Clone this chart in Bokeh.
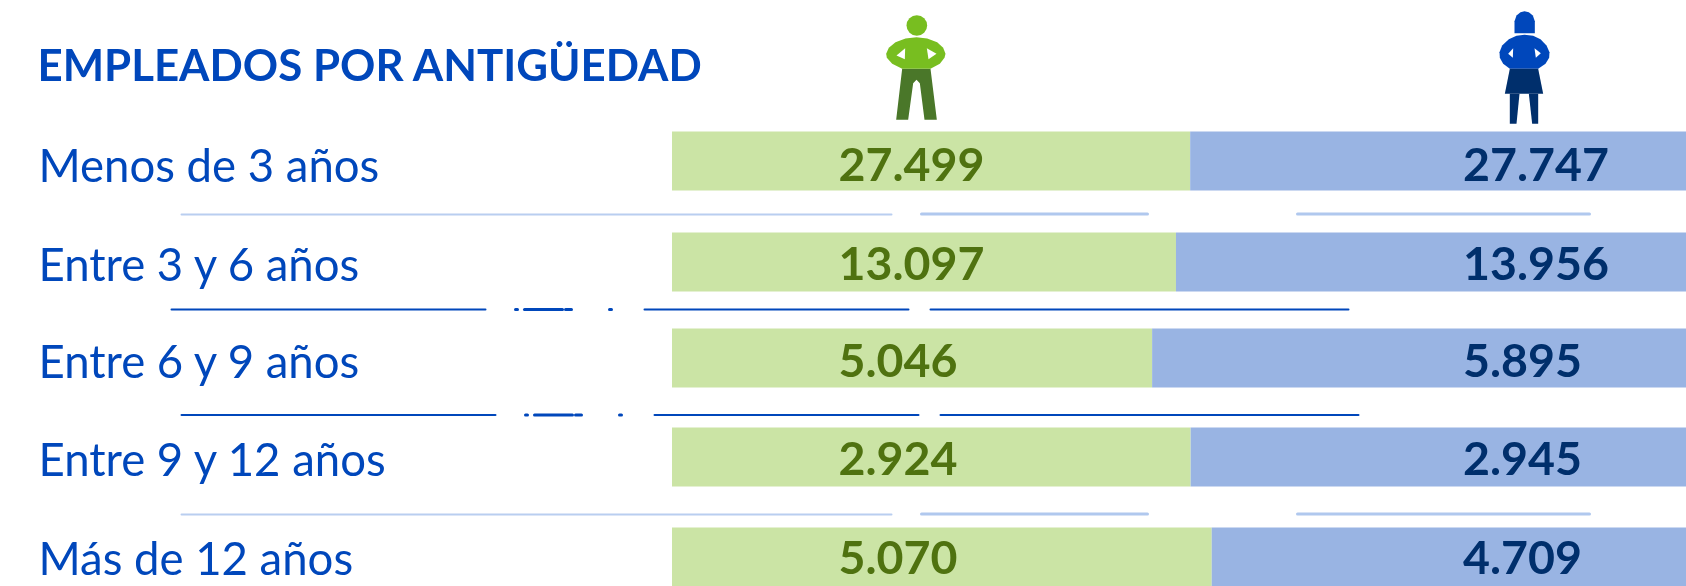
from bokeh.plotting import figure
from bokeh.models import Range1d, ColumnDataSource
from bokeh.core.properties import value
from bokeh.embed import file_html
from bokeh.resources import INLINE

title = "EMPLEADOS POR ANTIGÜEDAD"
categories = ["Menos de 3 años", "Entre 3 y 6 años", "Entre 6 y 9 años", "Entre 9 y 12 años", "Más de 12 años"]
hombres = [27499, 13097, 5046, 2924, 5070]
mujeres = [27747, 13956, 5895, 2945, 4709]
hombres_txt = ["27.499", "13.097", "5.046", "2.924", "5.070"]
mujeres_txt = ["27.747", "13.956", "5.895", "2.945", "4.709"]

W, H = 1686, 586
BAR_X0, BAR_W = 671.5, 1041
ROW_TOP = [131, 232, 328, 427, 527]
LABEL_Y = [164, 263, 360, 458, 557]
ROW_H = 59

GREEN_BAR, BLUE_BAR = "#CBE4A5", "#99B4E3"
DK_GREEN, NAVY, BLUE = "#4F7210", "#002F6C", "#0047BB"
LIGHT_LINE, MID_LINE = "#B9CEF0", "#B0C8EE"

p = figure(width=W, height=H, output_backend="svg", toolbar_location=None,
           x_range=Range1d(-BAR_X0 / BAR_W, (W - BAR_X0) / BAR_W),
           y_range=Range1d(H, 0), min_border=0, outline_line_color=None,
           background_fill_color="white", border_fill_color="white")
p.styles = {"position": "fixed", "left": "0px", "top": "0px"}
p.axis.visible = False
p.grid.visible = False
p.extra_x_ranges["px"] = Range1d(0, W)

share = [h / (h + m) for h, m in zip(hombres, mujeres)]
src = ColumnDataSource(dict(
    top=ROW_TOP, bottom=[t + ROW_H for t in ROW_TOP], share=share, one=[1.0] * 5, zero=[0.0] * 5,
    cat=categories, h=hombres_txt, m=mujeres_txt,
    lab_y=LABEL_Y, px_lab=[38] * 5, px_h=[838] * 5, px_m=[1462.5] * 5))

p.quad(left="zero", right="share", top="top", bottom="bottom", source=src,
       fill_color=GREEN_BAR, line_color=None)
p.quad(left="share", right="one", top="top", bottom="bottom", source=src,
       fill_color=BLUE_BAR, line_color=None)

p.text(x="px_lab", y="lab_y", text="cat", source=src, x_range_name="px",
       text_font=value("Lato"), text_font_size="45.5px", text_color=BLUE,
       text_baseline="alphabetic", text_align="left")
for col, colr, xc in (("h", DK_GREEN, "px_h"), ("m", NAVY, "px_m")):
    p.text(x=xc, y="lab_y", text=col, source=src, x_range_name="px",
           text_font=value("Lato"), text_font_size="46.5px", text_font_style="bold",
           text_color=colr, text_baseline="alphabetic", text_align="left")

p.text(x=[37], y=[63], text=[title], x_range_name="px", text_font=value("Lato"),
       text_font_size="43.8px", text_font_style="bold", text_color=BLUE,
       text_baseline="alphabetic", text_align="left")

# separators (broken rules between the rows)
def rule(x0, x1, y, color, w):
    p.segment(x0=[x0], x1=[x1], y0=[y], y1=[y], x_range_name="px", line_color=color,
              line_width=w, line_cap="round")

for y in (214, 514):
    rule(181, 891, y, LIGHT_LINE, 2)
    rule(921, 1147, y - 0.5, MID_LINE, 3)
    rule(1297, 1589, y - 0.5, MID_LINE, 3)
for y, dx in ((309, 0), (414.5, 10)):
    rule(171 + dx, 485 + dx, y, BLUE, 2)
    rule(515 + dx, 517 + dx, y, BLUE, 3)
    rule(524 + dx, 562 + dx, y, BLUE, 3)
    rule(565 + dx, 571 + dx, y, BLUE, 3)
    rule(609 + dx, 611 + dx, y, BLUE, 3)
    rule(644 + dx, 908 + dx, y, BLUE, 2)
    rule(930 + dx, 1348 + dx, y, BLUE, 2)

# pictograms
def poly(pts, ox, color):
    p.patch(x=[ox + a / 3 for a, _ in pts], y=[b / 3 for _, b in pts], x_range_name="px",
            fill_color=color, line_color=None)

MAN, WOMAN = 860, 1460
# man
p.ellipse(x=[MAN + 169 / 3], y=[75 / 3], width=[62 / 3], height=[62 / 3], x_range_name="px",
          fill_color="#78BE20", line_color=None)
poly([(125, 205), (210, 205), (229, 358), (192, 358), (178, 248), (168, 238), (158, 248),
      (143, 358), (107, 358)], MAN, "#4A7729")
poly([(125, 205), (95, 190), (79, 172), (77, 160), (85, 142), (105, 125), (135, 114), (168, 110),
      (200, 114), (230, 125), (248, 142), (255, 160), (252, 172), (238, 190), (210, 205)], MAN, "#78BE20")
poly([(134, 143), (108, 165), (133, 176)], MAN, "white")
poly([(199, 143), (228, 160), (204, 176)], MAN, "white")
# woman
poly([(162, 98), (162, 62), (168, 45), (180, 35), (192, 32), (205, 35), (217, 45), (223, 62), (223, 98)],
     WOMAN, "#0047BB")
poly([(148, 205), (128, 190), (118, 172), (117, 155), (125, 135), (145, 116), (168, 106), (192, 103),
      (218, 106), (240, 116), (258, 135), (267, 155), (266, 172), (255, 190), (233, 205)], WOMAN, "#0047BB")
poly([(158, 143), (143, 160), (157, 172)], WOMAN, "white")
poly([(222, 143), (241, 158), (226, 172)], WOMAN, "white")
poly([(148, 205), (233, 205), (248, 280), (133, 280)], WOMAN, NAVY)
poly([(148, 280), (177, 280), (168, 370), (148, 370)], WOMAN, NAVY)
poly([(205, 280), (233, 280), (233, 370), (215, 370)], WOMAN, NAVY)

open("out.html", "w").write(file_html(p, INLINE))
